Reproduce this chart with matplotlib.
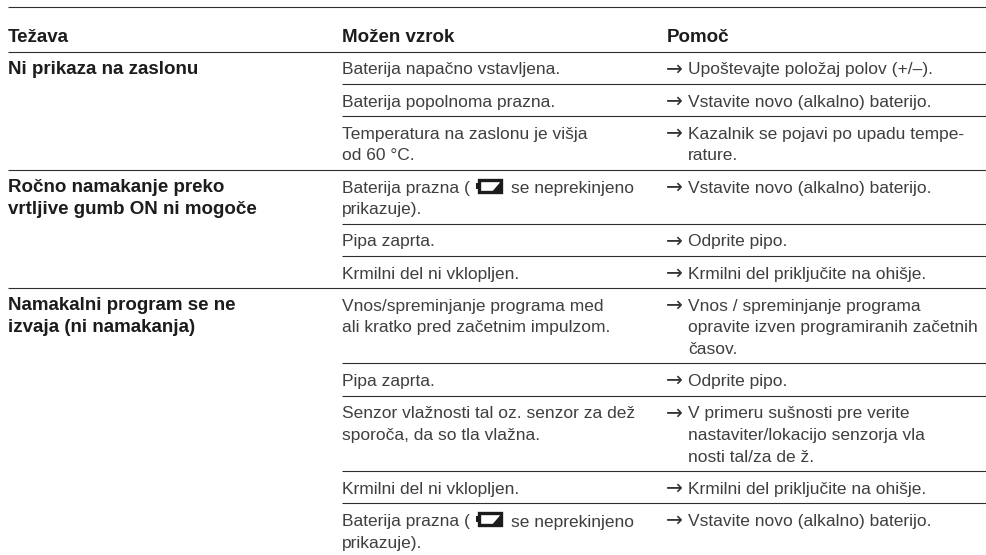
import matplotlib
matplotlib.use('Agg')
import matplotlib.pyplot as plt
from matplotlib.patches import Polygon, Rectangle

plt.rcParams['font.family'] = ['Liberation Sans', 'DejaVu Sans']

headers = ['Težava', 'Možen vzrok', 'Pomoč']

# "#" in a cause stands for the battery symbol
groups = [
    (['Ni prikaza na zaslonu'], [
        (['Baterija napačno vstavljena.'], ['Upoštevajte položaj polov (+/–).']),
        (['Baterija popolnoma prazna.'], ['Vstavite novo (alkalno) baterijo.']),
        (['Temperatura na zaslonu je višja', 'od 60 °C.'],
         ['Kazalnik se pojavi po upadu tempe-', 'rature.']),
    ]),
    (['Ročno namakanje preko', 'vrtljive gumb ON ni mogoče'], [
        (['Baterija prazna (# se neprekinjeno', 'prikazuje).'], ['Vstavite novo (alkalno) baterijo.']),
        (['Pipa zaprta.'], ['Odprite pipo.']),
        (['Krmilni del ni vklopljen.'], ['Krmilni del priključite na ohišje.']),
    ]),
    (['Namakalni program se ne', 'izvaja (ni namakanja)'], [
        (['Vnos/spreminjanje programa med', 'ali kratko pred začetnim impulzom.'],
         ['Vnos / spreminjanje programa', 'opravite izven programiranih začetnih', 'časov.']),
        (['Pipa zaprta.'], ['Odprite pipo.']),
        (['Senzor vlažnosti tal oz. senzor za dež', 'sporoča, da so tla vlažna.'],
         ['V primeru sušnosti pre verite', 'nastaviter/lokacijo senzorja vla', 'nosti tal/za de ž.']),
        (['Krmilni del ni vklopljen.'], ['Krmilni del priključite na ohišje.']),
        (['Baterija prazna (# se neprekinjeno', 'prikazuje).'], ['Vstavite novo (alkalno) baterijo.']),
    ]),
]

COL_X = [8, 342, 667]
HANG = 21
RIGHT = 986
LINE_H = 21.6
FS = 12.55
FS_BOLD = 13.5
TXT = '#3f3f3f'
BOLD = '#1c1c1c'
RULE = '#2e2e2e'

fig = plt.figure(figsize=(9.86, 5.55), dpi=100)
ax = fig.add_axes([0, 0, 1, 1])
ax.set_xlim(0, 986)
ax.set_ylim(555, 0)
ax.axis('off')


def rule(y, x0=COL_X[0]):
    ax.plot([x0, RIGHT], [y, y], color=RULE, lw=0.8, solid_capstyle='butt')


def battery(x, base):
    # symbol: small nub, hollow body, black wedge on the right
    ax.add_patch(Rectangle((x, base - 10), 2.5, 6, color='#1c1c1c', lw=0))
    ax.add_patch(Rectangle((x + 3.5, base - 13), 22, 12, fc='white', ec='#1c1c1c', lw=2.4))
    ax.add_patch(Polygon([(x + 27, base - 14), (x + 27, base), (x + 15, base)],
                         color='#1c1c1c', lw=0))


def cause_line(line, y):
    if '#' not in line:
        ax.text(COL_X[1], y, line, fontsize=FS, color=TXT, va='baseline')
        return
    left, right = line.split('#')
    t = ax.text(COL_X[1], y, left.rstrip(), fontsize=FS, color=TXT, va='baseline')
    fig.canvas.draw()
    end = t.get_window_extent().x1
    battery(end + 6, y)
    ax.text(end + 41, y + 1, right.strip(), fontsize=FS, color=TXT, va='baseline')


rule(6.5)
for x, h in zip(COL_X, headers):
    ax.text(x, 41.7, h, fontsize=FS_BOLD, color=BOLD, fontweight='bold', va='baseline')
rule(51.5)

top = 51.5
for g_i, (problem, rows) in enumerate(groups):
    if g_i:
        rule(top)
    for i, line in enumerate(problem):
        ax.text(COL_X[0], top + 22.5 + i * LINE_H, line, fontsize=FS_BOLD, color=BOLD,
                fontweight='bold', va='baseline')
    for r_i, (cause, remedy) in enumerate(rows):
        if r_i:
            rule(top, COL_X[1])
        base = top + 22.8
        for i, line in enumerate(cause):
            cause_line(line, base + i * LINE_H)
        ax.text(COL_X[2] - 1, base, '→', fontsize=14.5, color='#333333', va='baseline',
                family='DejaVu Sans')
        for i, line in enumerate(remedy):
            ax.text(COL_X[2] + HANG, base + i * LINE_H, line, fontsize=FS, color=TXT, va='baseline')
        top += 10.6 + LINE_H * max(len(cause), len(remedy))

fig.savefig('out.png', dpi=100, facecolor='white')
plt.close()
